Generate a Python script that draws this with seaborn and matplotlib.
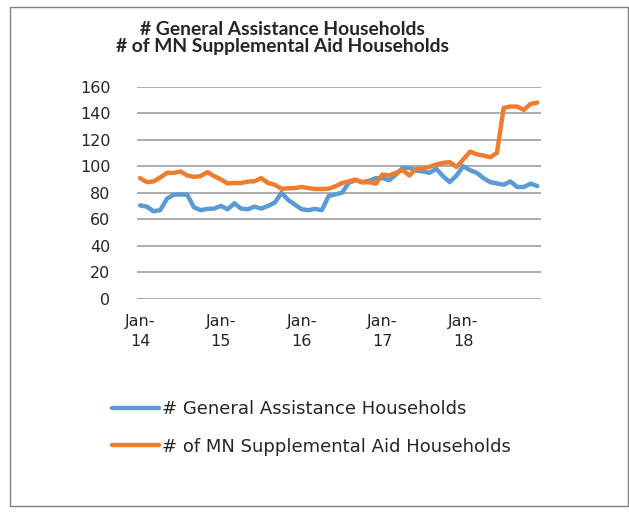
import matplotlib
matplotlib.use("Agg")
import matplotlib.pyplot as plt
import seaborn as sns
import pandas as pd
from matplotlib.patches import Rectangle

# ---- data ----
months = list(range(60))  # Jan-2014 .. Dec-2018, monthly
general_assistance = [70.4, 69.5, 66, 66.8, 75.5, 78.5, 78.7, 78.5, 69, 66.8, 67.8, 68,
                      70, 67.5, 72, 68, 67.5, 69.5, 68, 70, 72.5, 80, 74.5, 71,
                      67.5, 66.8, 67.8, 66.8, 77.5, 78.7, 80, 87.5, 89.5, 88, 89, 91,
                      91, 89.4, 93.7, 98.7, 98.7, 96.8, 96, 95, 98, 92.4, 88, 93,
                      100, 97, 95, 91, 88, 87, 86, 88.5, 84.3, 84.3, 86.8, 85]
mn_supplemental = [91, 88, 88.5, 91.5, 95, 95, 96, 93, 92, 92.5, 95.5, 92.5,
                   90, 87, 87.3, 87.3, 88.4, 88.6, 91, 87.3, 86, 83, 83.3, 83.5,
                   84.3, 83.5, 82.8, 82.8, 83, 84.8, 87.3, 88.6, 89.9, 87.8, 88, 86.8,
                   93.7, 93, 95, 97, 93, 98, 98.2, 99.5, 101.3, 102.5, 103, 99.5,
                   105, 111, 109, 108, 106.8, 110, 144, 145, 145, 142.5, 147, 148]
series_names = ["# General Assistance Households", "# of MN Supplemental Aid Households"]
tick_positions = [0, 12, 24, 36, 48]
tick_labels = ["Jan-\n14", "Jan-\n15", "Jan-\n16", "Jan-\n17", "Jan-\n18"]
y_ticks = [0, 20, 40, 60, 80, 100, 120, 140, 160]
title_lines = ["# General Assistance Households", "# of MN Supplemental Aid Households"]

df = pd.DataFrame({
    "month": months * 2,
    "value": general_assistance + mn_supplemental,
    "series": [series_names[0]] * 60 + [series_names[1]] * 60,
})

sns.set_style("white")
plt.rcParams["font.family"] = ["DejaVu Sans"]

W, H = 629, 515
fig = plt.figure(figsize=(W / 100, H / 100), dpi=100)
fig.patch.set_facecolor("white")

ax = fig.add_axes([136.7 / W, 1 - 298.7 / H, (540.7 - 136.7) / W, (298.7 - 86.7) / H])
palette = {series_names[0]: "#5b9bd5", series_names[1]: "#ed7d31"}
sns.lineplot(data=df, x="month", y="value", hue="series", palette=palette,
             linewidth=3.2, ax=ax, legend=True)
for ln in ax.get_lines():
    ln.set_solid_capstyle("round")
    ln.set_solid_joinstyle("round")

ax.set_xlim(-0.5, 59.5)
ax.set_ylim(0, 160)
ax.set_yticks(y_ticks)
ax.set_yticklabels([str(v) for v in y_ticks], fontsize=11.5)
ax.set_xticks(tick_positions)
ax.set_xticklabels(tick_labels, fontsize=11.5, linespacing=1.4)
ax.tick_params(axis="y", length=0, pad=19)
ax.tick_params(axis="x", length=0, pad=11)
ax.grid(axis="y", color="#a6a6a6", linewidth=1.3)
ax.set_axisbelow(True)
for s in ax.spines.values():
    s.set_visible(False)
ax.set_xlabel("")
ax.set_ylabel("")

leg = ax.legend(loc="upper left", bbox_to_anchor=(112 / W, 1 - 400 / H),
                bbox_transform=fig.transFigure, frameon=False, fontsize=13,
                handlelength=2.6, handletextpad=0.15, labelspacing=1.08,
                borderaxespad=0, borderpad=0)
for h in leg.get_lines():
    h.set_linewidth(3.2)

fig.text(282.5 / W, 1 - 38 / H, "\n".join(title_lines), ha="center", va="center",
         fontsize=13.9, fontweight="bold", family=["Lato", "DejaVu Sans"], linespacing=1.05)

fig.patches.append(Rectangle((10 / W, 1 - 506 / H), 617.5 / W, 499 / H,
                             transform=fig.transFigure, fill=False,
                             edgecolor="#7f7f7f", linewidth=1.0))

fig.savefig("out.png", dpi=100, facecolor="white")
